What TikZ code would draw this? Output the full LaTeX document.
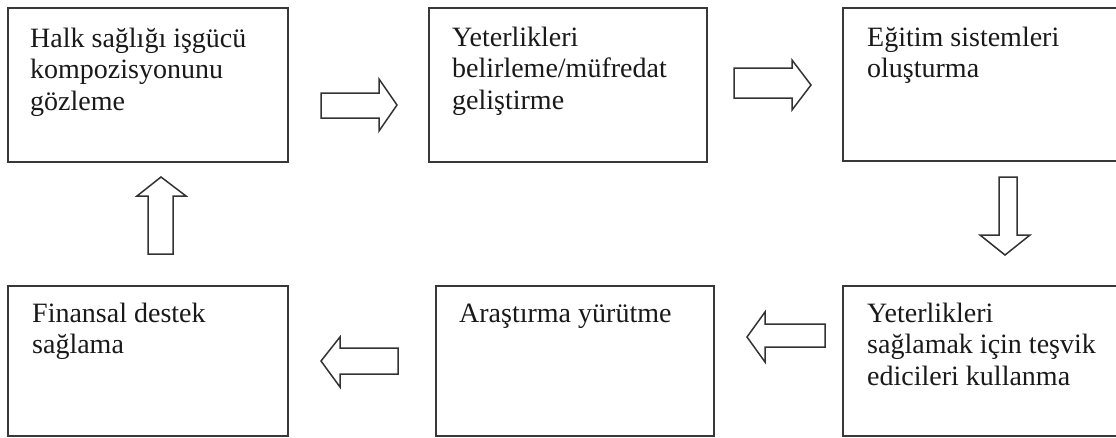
\documentclass[tikz,border=0pt]{standalone}
\usepackage{fontspec}
\setmainfont{Liberation Serif}
\begin{document}
\begin{tikzpicture}[x=1pt,y=-1pt,
  box/.style={draw=black!78, line width=2.2pt, anchor=north west, inner sep=0pt, outer sep=0pt},
  txt/.style={font=\fontsize{28}{31.5}\selectfont, align=left, anchor=base west, inner sep=0pt, text=black!90},
  barrow/.style={draw=black!80, line width=1.5pt, line join=miter, fill=white}]
\useasboundingbox (0,0) rectangle (1116,437);
\clip (0,0) rectangle (1116,437);
% boxes
\node[box, minimum width=280pt, minimum height=154pt] (b1) at (8,8) {};
\node[box, minimum width=278pt, minimum height=154pt] (b2) at (429,8) {};
\node[box, minimum width=282pt, minimum height=153pt] (b3) at (843,8) {};
\node[box, minimum width=280pt, minimum height=150pt] (b4) at (8,286) {};
\node[box, minimum width=278pt, minimum height=150pt] (b5) at (436,286) {};
\node[box, minimum width=282pt, minimum height=150pt] (b6) at (843,286) {};
% texts (anchor = baseline of the last line)
\node[txt] (t1) at (30,110) {Halk sağlığı işgücü\\kompozisyonunu\\gözleme};
\node[txt] (t2) at (452,109) {Yeterlikleri\\belirleme/müfredat\\geliştirme};
\node[txt] (t3) at (867,77.5) {Eğitim sistemleri\\oluşturma};
\node[txt] (t4) at (32,353.5) {Finansal destek\\sağlama};
\node[txt] (t5) at (459,322) {Araştırma yürütme};
\node[txt] (t6) at (867,385) {Yeterlikleri\\sağlamak için teşvik\\edicileri kullanma};
% block arrows
\draw[barrow] (321,93) -- (379,93) -- (379,79) -- (397,105) -- (379,131) -- (379,118) -- (321,118) -- cycle;
\draw[barrow] (734,68) -- (792,68) -- (792,60) -- (811,85) -- (792,110) -- (792,98) -- (734,98) -- cycle;
\draw[barrow] (999,177) -- (1017,177) -- (1017,235) -- (1030,235) -- (1005,255) -- (980,235) -- (999,235) -- cycle;
\draw[barrow] (148,254) -- (148,196) -- (137,196) -- (161,177) -- (186,196) -- (173,196) -- (173,254) -- cycle;
\draw[barrow] (398,348) -- (340,348) -- (340,337) -- (321,361) -- (340,387) -- (340,374) -- (398,374) -- cycle;
\draw[barrow] (825,324) -- (765,324) -- (765,312) -- (747,337) -- (765,362) -- (765,347) -- (825,347) -- cycle;
\end{tikzpicture}
\end{document}
